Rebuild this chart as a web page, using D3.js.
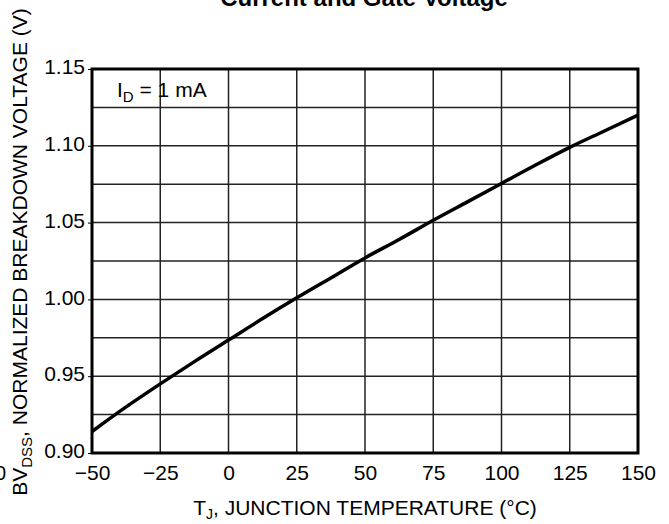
<!DOCTYPE html>
<html lang="en">
<head>
<meta charset="UTF-8">
<title>Normalized Breakdown Voltage vs Junction Temperature</title>
<script src="https://d3js.org/d3.v7.min.js"></script>
<style>
  body { margin: 0; background: #fff; }
  svg { display: block; font-family: "Liberation Sans", Arial, sans-serif; }
</style>
</head>
<body>
<svg id="chart" width="669" height="524"></svg>
<script>
// data
const tempC = [-50, -37.5, -25, -12.5, 0, 12.5, 25, 37.5, 50, 62.5, 75, 87.5, 100, 112.5, 125, 137.5, 150];
const bvNorm = [0.914, 0.930, 0.945, 0.9595, 0.9735, 0.9875, 1.001, 1.014, 1.027, 1.039, 1.0515, 1.0635, 1.0755, 1.0875, 1.099, 1.1095, 1.120];
const xTicks = [-50, -25, 0, 25, 50, 75, 100, 125, 150];
const yTicks = [0.90, 0.95, 1.00, 1.05, 1.10, 1.15];
const yGrid = d3.range(0, 11).map(i => 0.90 + i * 0.025);

const svg = d3.select("#chart");
const margin = { top: 69, right: 31, bottom: 71, left: 92 };
const width = 669 - margin.left - margin.right;
const height = 524 - margin.top - margin.bottom;

const g = svg.append("g").attr("transform", `translate(${margin.left},${margin.top})`);

const x = d3.scaleLinear().domain([-50, 150]).range([0, width]);
const y = d3.scaleLinear().domain([0.90, 1.15]).range([height, 0]);

// grid
g.selectAll(".vgrid").data(xTicks).enter().append("line")
  .attr("x1", d => x(d)).attr("x2", d => x(d))
  .attr("y1", 0).attr("y2", height)
  .attr("stroke", "#222").attr("stroke-width", 1.5);
g.selectAll(".hgrid").data(yGrid).enter().append("line")
  .attr("x1", 0).attr("x2", width)
  .attr("y1", d => y(d)).attr("y2", d => y(d))
  .attr("stroke", "#222").attr("stroke-width", 1.5);

// axes (labels only, frame drawn separately)
const yAxis = g.append("g")
  .call(d3.axisLeft(y).tickValues(yTicks).tickFormat(d3.format(".2f")).tickSize(4).tickPadding(3));
yAxis.select(".domain").remove();
yAxis.selectAll("text").attr("font-size", 21).attr("fill", "#000").attr("dy", "0.22em");
yAxis.selectAll("line").attr("stroke", "#000");

const xAxis = g.append("g").attr("transform", `translate(0,${height})`)
  .call(d3.axisBottom(x).tickValues(xTicks).tickSize(0).tickPadding(12));
xAxis.select(".domain").remove();
xAxis.selectAll("text").attr("font-size", 21).attr("fill", "#000");

// frame
g.append("rect").attr("width", width).attr("height", height)
  .attr("fill", "none").attr("stroke", "#000").attr("stroke-width", 3);

// curve
const line = d3.line().x((d, i) => x(tempC[i])).y(d => y(d)).curve(d3.curveMonotoneX);
g.append("path").datum(bvNorm).attr("d", line)
  .attr("fill", "none").attr("stroke", "#000").attr("stroke-width", 3.5);

// annotation
const ann = g.append("text").attr("x", 25).attr("y", 28).attr("font-size", 21);
ann.append("tspan").text("I");
ann.append("tspan").attr("font-size", 15).attr("dy", 5).text("D");
ann.append("tspan").attr("dy", -5).text(" = 1 mA");

// title (clipped at top in reference)
svg.append("text").attr("x", 364).attr("y", 6).attr("text-anchor", "middle")
  .attr("font-size", 24).attr("font-weight", "bold").text("Current and Gate Voltage");

// x title
const xt = svg.append("text").attr("x", 365).attr("y", 515).attr("text-anchor", "middle").attr("font-size", 21);
xt.append("tspan").text("T");
xt.append("tspan").attr("font-size", 14).attr("dy", 4).text("J");
xt.append("tspan").attr("dy", -4).text(", JUNCTION TEMPERATURE (°C)");

// y title
const yt = svg.append("text").attr("transform", "translate(27,252) rotate(-90)")
  .attr("text-anchor", "middle").attr("font-size", 21);
yt.append("tspan").text("BV");
yt.append("tspan").attr("font-size", 15).attr("dy", 5).text("DSS");
yt.append("tspan").attr("dy", -5).text(", NORMALIZED BREAKDOWN VOLTAGE (V)");

// stray clipped character at left edge
svg.append("text").attr("x", 6).attr("y", 480).attr("text-anchor", "end").attr("font-size", 20).text("0");
</script>
</body>
</html>
